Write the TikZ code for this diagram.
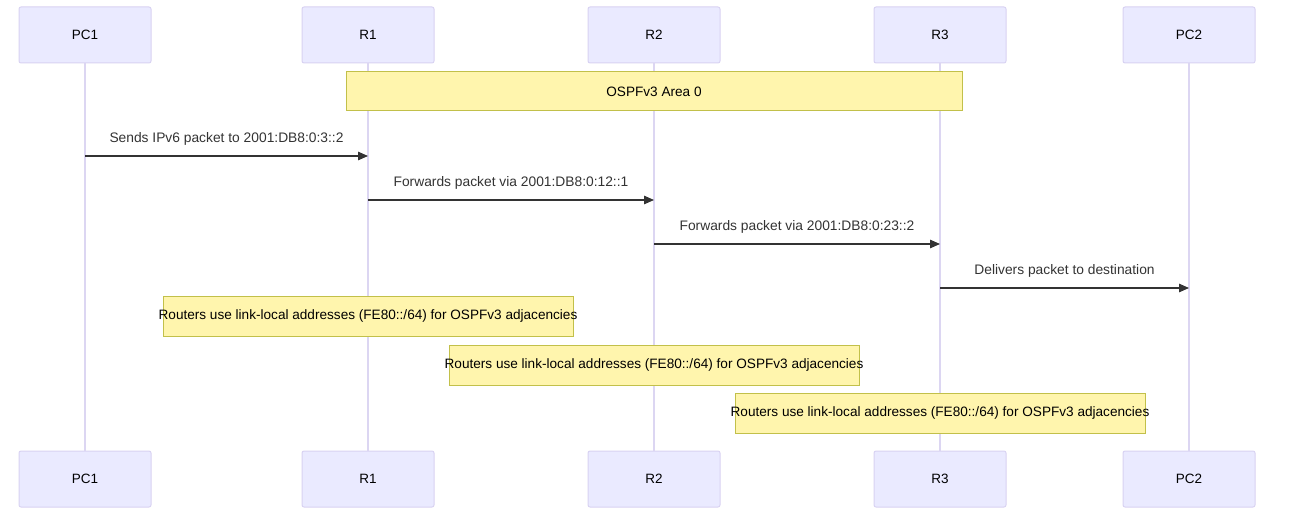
\documentclass[tikz,border=0pt]{standalone}
\usepackage{fontspec}
\setmainfont{Liberation Sans}
\usetikzlibrary{arrows.meta}
\definecolor{actfill}{HTML}{EAEAFF}
\definecolor{actdraw}{HTML}{D8D2F2}
\definecolor{lifec}{HTML}{DCD6F2}
\definecolor{notefill}{HTML}{FFF5AD}
\definecolor{notedraw}{HTML}{C2C04A}
\definecolor{msgc}{HTML}{333333}
\begin{document}
\begin{tikzpicture}[x=1pt,y=-1pt,
  actor/.style={draw=actdraw,fill=actfill,line width=1pt,rounded corners=2pt,minimum width=132pt,minimum height=56pt,inner sep=0pt,font=\fontsize{13.5}{15}\selectfont},
  life/.style={draw=lifec,line width=1.6pt},
  note/.style={draw=notedraw,fill=notefill,line width=1pt,inner sep=0pt},
  ntext/.style={inner sep=0pt,font=\fontsize{13.6}{15}\selectfont},
  msg/.style={draw=msgc,line width=1.2pt,-{Triangle[length=10pt,width=8.5pt]}},
  mlabel/.style={font=\fontsize{13.8}{15}\selectfont,text=msgc,inner sep=0pt}]
\useasboundingbox (0,0) rectangle (1307,532);
% actors
\foreach \n/\x/\t in {pc1/85/PC1,r1/368/R1,r2/654/R2,r3/940/R3,pc2/1189/PC2}{
  \node[actor] (\n t) at (\x,35) {\t};
  \node[actor] (\n b) at (\x,479) {\t};
  \draw[life] (\n t.south) -- (\n b.north);
}
% area note
\node[note,minimum width=616pt,minimum height=39pt] (area) at (654,91.5) {};
\node[ntext] (areat) at (area.center) {OSPFv3 Area 0};
% messages
\coordinate (m1s) at (85,156); \coordinate (m1e) at (368,156);
\draw[msg] (m1s) -- (m1e) node[mlabel,midway,above=10pt] (l1) {Sends IPv6 packet to 2001:DB8:0:3::2};
\coordinate (m2s) at (368,200); \coordinate (m2e) at (654,200);
\draw[msg] (m2s) -- (m2e) node[mlabel,midway,above=10pt] (l2) {Forwards packet via 2001:DB8:0:12::1};
\coordinate (m3s) at (654,244); \coordinate (m3e) at (940,244);
\draw[msg] (m3s) -- (m3e) node[mlabel,midway,above=10pt] (l3) {Forwards packet via 2001:DB8:0:23::2};
\coordinate (m4s) at (940,288); \coordinate (m4e) at (1189,288);
\draw[msg] (m4s) -- (m4e) node[mlabel,midway,above=10pt] (l4) {Delivers packet to destination};
% notes
\node[note,minimum width=410pt,minimum height=40pt] (n1) at (368,316) {};
\node[ntext] (n1t) at (n1.center) {Routers use link-local addresses (FE80::/64) for OSPFv3 adjacencies};
\node[note,minimum width=410pt,minimum height=40pt] (n2) at (654,365) {};
\node[ntext] (n2t) at (n2.center) {Routers use link-local addresses (FE80::/64) for OSPFv3 adjacencies};
\node[note,minimum width=410pt,minimum height=40pt] (n3) at (940,413) {};
\node[ntext] (n3t) at (n3.center) {Routers use link-local addresses (FE80::/64) for OSPFv3 adjacencies};
\end{tikzpicture}
\end{document}
